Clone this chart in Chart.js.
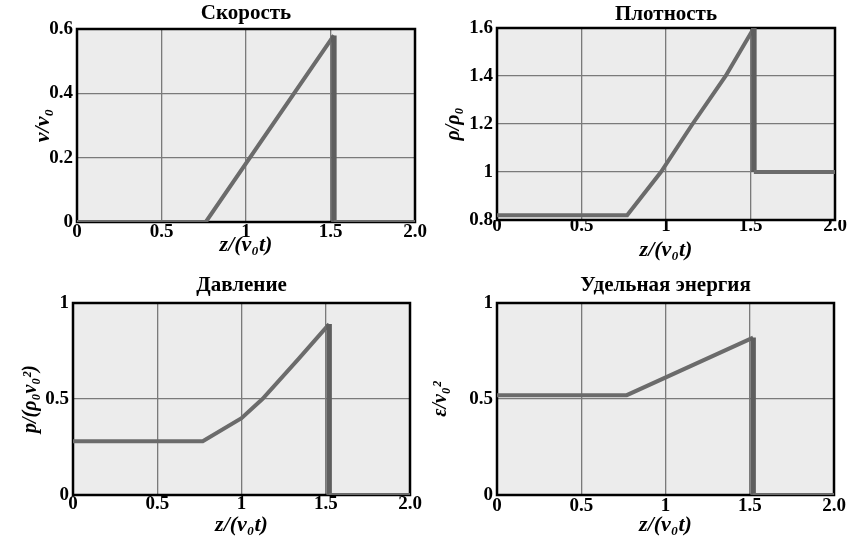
<!DOCTYPE html>
<html>
<head>
<meta charset="utf-8">
<script src="https://cdn.jsdelivr.net/npm/chart.js@4.4.1/dist/chart.umd.min.js"></script>
<style>
  body { margin: 0; background: #fff; width: 849px; height: 536px; position: relative; overflow: hidden; }
  .box { position: absolute; }
</style>
</head>
<body>
<div class="box" style="left:0;top:0;width:430px;height:268px"><canvas id="c1"></canvas></div>
<div class="box" style="left:430px;top:0;width:419px;height:268px"><canvas id="c2"></canvas></div>
<div class="box" style="left:0;top:268px;width:430px;height:268px"><canvas id="c3"></canvas></div>
<div class="box" style="left:430px;top:268px;width:419px;height:268px"><canvas id="c4"></canvas></div>
<script>
// shared x axis
const xTickLabels = ['0', '0.5', '1', '1.5', '2.0'];

// velocity
const zVel = [0, 0.762, 1.52, 1.52, 2.0];
const velValues = [0, 0, 0.58, 0, 0];
const velTicks = ['0', '0.2', '0.4', '0.6'];

// density
const zRho = [0, 0.77, 0.97, 1.157, 1.353, 1.52, 1.52, 2.0];
const rhoValues = [0.82, 0.82, 1.0, 1.2, 1.4, 1.6, 1.0, 1.0];
const rhoTicks = ['0.8', '1', '1.2', '1.4', '1.6'];

// pressure
const zPres = [0, 0.77, 1.0, 1.124, 1.34, 1.52, 1.52, 2.0];
const presValues = [0.28, 0.28, 0.40, 0.50, 0.71, 0.89, 0, 0];
const presTicks = ['0', '0.5', '1'];

// specific energy
const zEn = [0, 0.77, 1.52, 1.52, 2.0];
const enValues = [0.52, 0.52, 0.82, 0, 0];
const enTicks = ['0', '0.5', '1'];

const SERIF = '"Liberation Serif", "Times New Roman", serif';

// plot background + black frame
const framePlugin = {
  id: 'frame',
  beforeDraw(chart) {
    const a = chart.chartArea, ctx = chart.ctx;
    ctx.save();
    ctx.fillStyle = '#ececec';
    ctx.fillRect(a.left, a.top, a.right - a.left, a.bottom - a.top);
    ctx.restore();
  },
  beforeDatasetsDraw(chart) {
    const a = chart.chartArea, ctx = chart.ctx;
    ctx.save();
    ctx.strokeStyle = '#000';
    ctx.lineWidth = 2.5;
    ctx.strokeRect(a.left, a.top, a.right - a.left, a.bottom - a.top);
    ctx.restore();
  }
};

function makeChart(id, cfg) {
  const points = cfg.z.map((z, i) => ({ x: z, y: cfg.values[i] }));
  return new Chart(document.getElementById(id), {
    type: 'line',
    data: {
      datasets: [{
        data: points,
        borderColor: '#6b6b6b',
        borderWidth: 4,
        borderJoinStyle: 'miter',
        pointRadius: 0,
        tension: 0,
        segment: {
          borderWidth: c => c.p0.parsed.x === c.p1.parsed.x ? 5.5 : undefined,
          borderColor: c => c.p0.parsed.x === c.p1.parsed.x ? '#5e5e5e' : undefined
        }
      }]
    },
    options: {
      responsive: true,
      maintainAspectRatio: false,
      animation: false,
      layout: { padding: { left: 0, right: cfg.padRight, top: 0, bottom: 0 } },
      plugins: {
        legend: { display: false },
        tooltip: { enabled: false },
        title: {
          display: true,
          text: cfg.title,
          fullSize: false,
          color: '#000',
          font: { family: SERIF, size: 21, weight: 'bold', lineHeight: 1.2 },
          padding: { top: cfg.titleTop, bottom: cfg.top - 25.2 - cfg.titleTop }
        }
      },
      scales: {
        x: {
          type: 'linear',
          min: 0, max: 2,
          afterFit: s => { s.height = cfg.xHeight; },
          grid: { color: '#7a7a7a', lineWidth: 1.3, drawTicks: false },
          border: { display: false },
          ticks: {
            stepSize: 0.5,
            padding: cfg.xTickPad,
            color: '#000',
            maxRotation: 0,
            autoSkip: false,
            font: { family: SERIF, size: 19, weight: 'bold', lineHeight: 1 },
            callback: (v, i) => xTickLabels[i]
          },
          title: {
            display: true,
            text: 'z/(v₀t)',
            color: '#000',
            font: { family: SERIF, size: 22, weight: 'bold', style: 'italic', lineHeight: 1 },
            padding: { top: 0, bottom: cfg.xTitlePad }
          }
        },
        y: {
          min: cfg.yMin, max: cfg.yMax,
          afterFit: s => { s.width = cfg.yWidth; },
          grid: { color: '#7a7a7a', lineWidth: 1.3, drawTicks: false },
          border: { display: false },
          ticks: {
            stepSize: cfg.yStep,
            padding: 4,
            color: '#000',
            autoSkip: false,
            font: { family: SERIF, size: 19, weight: 'bold', lineHeight: 1 },
            callback: (v, i) => cfg.yLabels[i]
          },
          title: {
            display: true,
            text: cfg.yTitle,
            color: '#000',
            font: { family: SERIF, size: cfg.yTitleSize, weight: 'bold', style: 'italic', lineHeight: 1 },
            padding: { top: cfg.yTitlePad, bottom: 0 }
          }
        }
      }
    },
    plugins: [framePlugin]
  });
}

makeChart('c1', {
  title: 'Скорость', z: zVel, values: velValues,
  yMin: 0, yMax: 0.6, yStep: 0.2, yLabels: velTicks,
  yTitle: 'v/v₀', yTitleSize: 22, yTitlePad: 32,
  yWidth: 77, padRight: 15, top: 29, titleTop: 1.4, xHeight: 46, xTickPad: 1, xTitlePad: 12
});
makeChart('c2', {
  title: 'Плотность', z: zRho, values: rhoValues,
  yMin: 0.8, yMax: 1.6, yStep: 0.2, yLabels: rhoTicks,
  yTitle: 'ρ/ρ₀', yTitleSize: 20, yTitlePad: 14,
  yWidth: 67, padRight: 14, top: 28, titleTop: 2.4, xHeight: 48, xTickPad: -3, xTitlePad: 7
});
makeChart('c3', {
  title: 'Давление', z: zPres, values: presValues,
  yMin: 0, yMax: 1, yStep: 0.5, yLabels: presTicks,
  yTitle: 'p/(ρ₀v₀²)', yTitleSize: 20, yTitlePad: 21,
  yWidth: 73, padRight: 20, top: 35, titleTop: 5.4, xHeight: 41, xTickPad: -0.5, xTitlePad: 0
});
makeChart('c4', {
  title: 'Удельная энергия', z: zEn, values: enValues,
  yMin: 0, yMax: 1, yStep: 0.5, yLabels: enTicks,
  yTitle: 'ε/v₀²', yTitleSize: 20, yTitlePad: 1,
  yWidth: 67, padRight: 15, top: 35, titleTop: 5.4, xHeight: 41, xTickPad: 1.5, xTitlePad: 0
});
</script>
</body>
</html>
